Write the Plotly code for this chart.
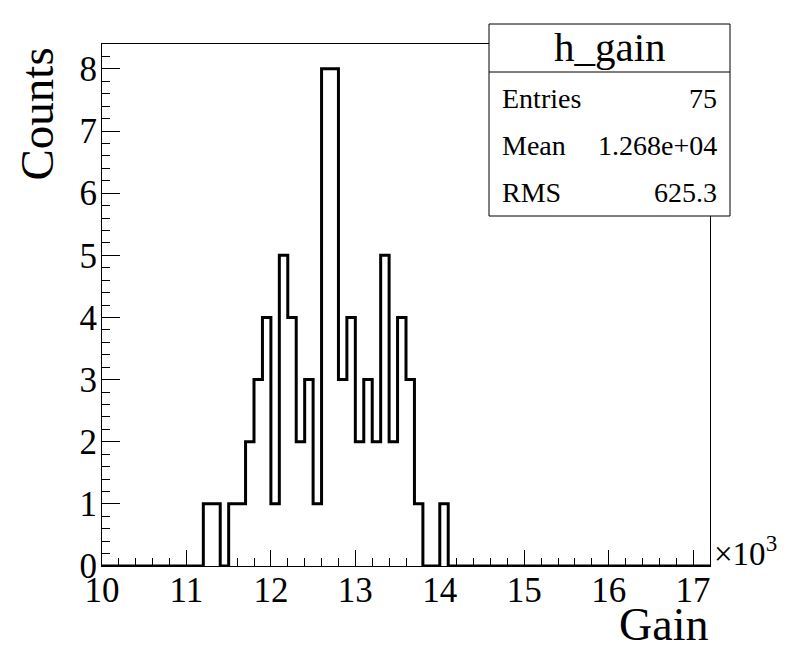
import plotly.graph_objects as go

# h_gain: 100-wide bins from 10000 to 17200, counts per bin
bin_lo = 10000
bin_width = 100
counts = [
    0, 0, 0, 0, 0, 0, 0, 0, 0, 0,   # 10.0 - 11.0
    0, 0, 1, 1, 0, 1, 1, 2, 3, 4,   # 11.0 - 12.0
    1, 5, 4, 2, 3, 1, 8, 8, 3, 4,   # 12.0 - 13.0
    2, 3, 2, 5, 2, 4, 3, 1, 0, 0,   # 13.0 - 14.0
    1, 0, 0, 0, 0, 0, 0, 0, 0, 0,   # 14.0 - 15.0
    0, 0, 0, 0, 0, 0, 0, 0, 0, 0,   # 15.0 - 16.0
    0, 0, 0, 0, 0, 0, 0, 0, 0, 0,   # 16.0 - 17.0
    0, 0,                           # 17.0 - 17.2
]
x_ticks = [10000, 11000, 12000, 13000, 14000, 15000, 16000, 17000]
x_tick_labels = ["10", "11", "12", "13", "14", "15", "16", "17"]
stats_labels = ["Entries", "Mean", "RMS"]
stats_values = ["75", "1.268e+04", "625.3"]

edges = [bin_lo + i * bin_width for i in range(len(counts) + 1)]
FONT = "Liberation Serif"

fig = go.Figure()
fig.add_trace(go.Scatter(
    x=edges, y=counts + [counts[-1]],
    mode="lines", line_shape="hv",
    line=dict(color="black", width=3),
    hoverinfo="skip", showlegend=False,
))

# page body has an 8px margin, so work in screen pixels and subtract it
OFF = 8
W, H = 788 - OFF, 652 - OFF
L, R, T, B = 102, 710, 44, 566   # frame in screen pixels
pw, ph = R - L, B - T


def px(x):
    return (x - L) / pw


def py(y):
    return (B - y) / ph


fig.update_xaxes(
    range=[edges[0], edges[-1]],
    tickvals=x_ticks, ticktext=x_tick_labels,
    ticks="inside", ticklen=16, tickwidth=1, tickcolor="black",
    minor=dict(ticks="inside", ticklen=8, dtick=200, tick0=10000, tickcolor="black"),
    showline=True, linecolor="black", linewidth=1, mirror=True,
    showgrid=False, zeroline=False,
    tickfont=dict(family=FONT, size=35, color="black"),
    ticklabelstandoff=-7,
)
fig.update_yaxes(
    range=[0, 8.4],
    tickvals=list(range(9)),
    ticks="inside", ticklen=18, tickwidth=1, tickcolor="black",
    minor=dict(ticks="inside", ticklen=8, dtick=0.2, tickcolor="black"),
    showline=True, linecolor="black", linewidth=1, mirror=True,
    showgrid=False, zeroline=False,
    tickfont=dict(family=FONT, size=35, color="black"),
    ticklabelstandoff=-3,
)

# axis titles, ROOT style (aligned to the axis end)
fig.add_annotation(text="Counts", textangle=-90, xref="paper", yref="paper",
                   x=px(36), y=py(46), xanchor="center", yanchor="top",
                   showarrow=False, font=dict(family=FONT, size=47, color="black"))
fig.add_annotation(text="Gain", xref="paper", yref="paper",
                   x=px(710), y=py(652), xanchor="right", yanchor="bottom",
                   showarrow=False, font=dict(family=FONT, size=46, color="black"))
fig.add_annotation(text="×10<sup>3</sup>", xref="paper", yref="paper",
                   x=px(712), y=py(574), xanchor="left", yanchor="bottom",
                   showarrow=False, font=dict(family=FONT, size=33, color="black"))

# stats box
bx0, bx1, by0, by1, bsep = 489, 730, 24, 216, 72
fig.add_shape(type="rect", xref="paper", yref="paper",
              x0=px(bx0), x1=px(bx1), y0=py(by1), y1=py(by0),
              line=dict(color="black", width=1), fillcolor="white", layer="above")
fig.add_shape(type="line", xref="paper", yref="paper",
              x0=px(bx0), x1=px(bx1), y0=py(bsep), y1=py(bsep),
              line=dict(color="black", width=1), layer="above")
fig.add_annotation(text="h_gain", xref="paper", yref="paper",
                   x=px((bx0 + bx1) / 2), y=py(47), xanchor="center", yanchor="middle",
                   showarrow=False, font=dict(family=FONT, size=41, color="black"))
row_y = [98, 145, 193]
for lab, val, yy in zip(stats_labels, stats_values, row_y):
    fig.add_annotation(text=lab, xref="paper", yref="paper",
                       x=px(500), y=py(yy), xanchor="left", yanchor="middle",
                       showarrow=False, font=dict(family=FONT, size=28, color="black"))
    fig.add_annotation(text=val, xref="paper", yref="paper",
                       x=px(719), y=py(yy), xanchor="right", yanchor="middle",
                       showarrow=False, font=dict(family=FONT, size=28, color="black"))

fig.update_layout(
    width=W, height=H,
    margin=dict(l=L - OFF, r=W - (R - OFF), t=T - OFF, b=H - (B - OFF)),
    paper_bgcolor="white", plot_bgcolor="white",
    font=dict(family=FONT, color="black"),
)

fig.write_html("out.html")
